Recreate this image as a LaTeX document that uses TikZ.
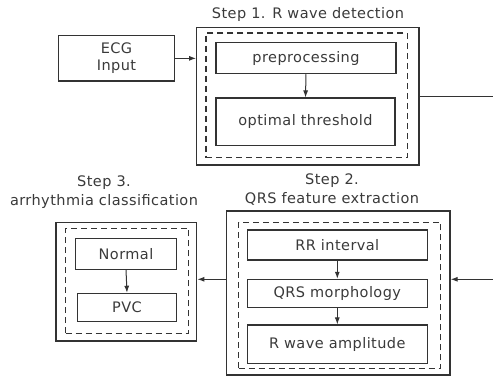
\documentclass[tikz,border=0pt]{standalone}
\usepackage{fontspec}
\setmainfont{DejaVu Sans}[LetterSpace=3]
\usetikzlibrary{arrows.meta}
\definecolor{linec}{HTML}{333333}
\definecolor{txt}{HTML}{3A3A3A}
\begin{document}
\begin{tikzpicture}[x=1pt,y=-1pt,
  every node/.style={text=txt, font=\fontsize{14.5}{19}\selectfont, align=center},
  box/.style={draw=linec, line width=1.1pt, inner sep=0pt},
  outer/.style={draw=linec, line width=1.3pt, inner sep=0pt},
  dbox/.style={draw=linec, line width=1.1pt, dash pattern=on 6pt off 4pt, inner sep=0pt},
  arr/.style={draw=linec, line width=1pt, -{Latex[length=7pt,width=5pt]}},
  ln/.style={draw=linec, line width=1pt}]
\useasboundingbox (0,0) rectangle (493,378);
\fill[white] (0,0) rectangle (493,378);
% Step 1
\node[box, minimum width=115.6pt, minimum height=45.3pt] (ecg) at (116.5,58.35) {ECG\\[-2pt]Input};
\node[outer, minimum width=222.3pt, minimum height=137.7pt] (s1) at (307.85,96.15) {};
\node[dbox, minimum width=201.3pt, minimum height=124.7pt] (d1) at (306.65,95.35) {};
\node[box, minimum width=180pt, minimum height=31.4pt] (pre) at (306,58) {preprocessing};
\node[box, minimum width=179pt, minimum height=47.7pt] (opt) at (305.5,121.85) {optimal threshold};
\node (t1) at (308,14) {Step 1. R wave detection};
% Step 2
\node[outer, minimum width=223.3pt, minimum height=164pt] (s2) at (338.35,293) {};
\node[dbox, minimum width=202pt, minimum height=146pt] (d2) at (339.7,295.3) {};
\node[box, minimum width=180pt, minimum height=30pt] (rr) at (337.3,245) {RR interval};
\node[box, minimum width=180pt, minimum height=28.4pt] (qrs) at (337.3,293.5) {QRS morphology};
\node[box, minimum width=180pt, minimum height=38.3pt] (ramp) at (337.3,344.15) {R wave amplitude};
\node (t2) at (332,189.5) {Step 2.\\QRS feature extraction};
% Step 3
\node[outer, minimum width=140.7pt, minimum height=118.3pt] (s3) at (126.35,281.85) {};
\node[dbox, minimum width=123pt, minimum height=105pt] (d3) at (127.2,280.8) {};
\node[box, minimum width=101.4pt, minimum height=31pt] (nor) at (126,253.8) {Normal};
\node[box, minimum width=99.4pt, minimum height=28.4pt] (pvc) at (127,307.5) {PVC};
\node (t3) at (104,192.5) {Step 3.\\arrhythmia classification};
% connectors
\coordinate (c1) at (500,96.15);
\coordinate (c2) at (500,279.3);
\draw[arr] (ecg.east) -- (s1.west |- ecg.east);
\draw[arr] (pre.south) -- (opt.north);
\draw[arr] (rr.south) -- (qrs.north);
\draw[arr] (qrs.south) -- (ramp.north);
\draw[arr] (nor.south) -- (pvc.north);
\draw[arr] (s1.east) -- (c1) -- (c2) -- (s2.east |- c2);
\draw[arr] (s2.west |- c2) -- (s3.east |- c2);
\end{tikzpicture}
\end{document}
